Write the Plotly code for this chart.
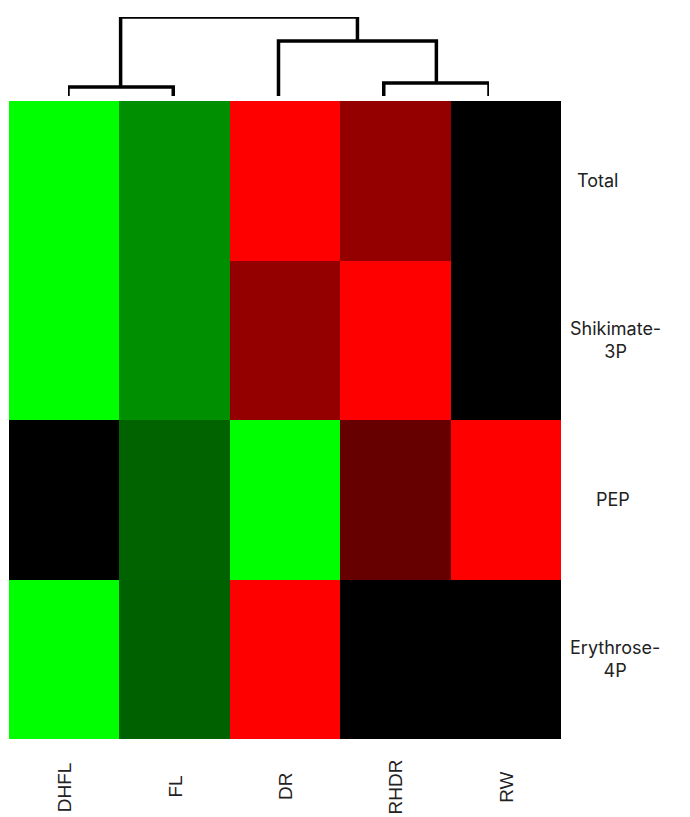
import plotly.graph_objects as go

# ---- data ----
columns = ["DHFL", "FL", "DR", "RHDR", "RW"]
rows = ["Total", "Shikimate-3P", "PEP", "Erythrose-4P"]
row_labels = ["Total", "Shikimate-<br>3P", "PEP", "Erythrose-<br>4P"]
z_total = [-1.0, -0.56, 1.0, 0.58, 0.0]
z_shikimate = [-1.0, -0.56, 0.58, 1.0, 0.0]
z_pep = [0.0, -0.39, -1.0, 0.40, 1.0]
z_erythrose = [-1.0, -0.38, 1.0, 0.0, 0.0]
z_values = [z_total, z_shikimate, z_pep, z_erythrose]

# dendrogram (column clustering): merges as (left cluster, right cluster, height)
dendro_merges = [
    ("DHFL", "FL", 9),
    ("RHDR", "RW", 13),
    ("DR", "RHDR+RW", 55),
    ("DHFL+FL", "DR+RHDR+RW", 79),
]

W, H = 690, 817
hm_left, hm_right, hm_top, hm_bottom = 9, 561, 101, 739
fig = go.Figure()

fig.add_trace(go.Heatmap(
    z=z_values, x=list(range(len(columns))), y=list(range(len(rows))),
    colorscale=[[0, "#00FF00"], [0.5, "#000000"], [1, "#FF0000"]],
    zmin=-1, zmax=1, showscale=False, hoverinfo="skip",
    xaxis="x", yaxis="y",
))

# dendrogram lines
pos = {c: (float(i), 0.0) for i, c in enumerate(columns)}
dx, dy = [], []
for a, b, h in dendro_merges:
    xa, ha = pos[a]
    xb, hb = pos[b]
    dx += [xa, xa, xb, xb, None]
    dy += [ha, h, h, hb, None]
    pos[a + "+" + b] = ((xa + xb) / 2, h)
fig.add_trace(go.Scatter(
    x=dx, y=dy, mode="lines",
    line=dict(color="black", width=3.5),
    xaxis="x2", yaxis="y2", hoverinfo="skip", showlegend=False,
))

top_h = dendro_merges[-1][2]

annotations = []
# row labels
row_x = [575, 615, 613, 615]
row_anchor = ["left", "center", "center", "center"]
for i, lab in enumerate(row_labels):
    annotations.append(dict(
        x=row_x[i] / W, xref="paper", y=i, yref="y",
        text=lab, showarrow=False, xanchor=row_anchor[i], yanchor="middle",
        align="center", font=dict(family="Inter", size=18, color="#222"),
    ))
# column labels
for i, c in enumerate(columns):
    annotations.append(dict(
        x=i, xref="x", y=1 - 787 / H, yref="paper",
        text=c, showarrow=False, textangle=-90,
        xanchor="center", yanchor="middle",
        font=dict(family="Liberation Sans", size=19, color="#222"),
    ))

fig.update_layout(
    width=W, height=H,
    margin=dict(l=0, r=0, t=0, b=0),
    paper_bgcolor="white", plot_bgcolor="white",
    showlegend=False,
    xaxis=dict(domain=[hm_left / W, hm_right / W], range=[-0.5, len(columns) - 0.5],
               showticklabels=False, showgrid=False, zeroline=False, ticks=""),
    yaxis=dict(domain=[1 - hm_bottom / H, 1 - hm_top / H], range=[len(rows) - 0.5, -0.5],
               showticklabels=False, showgrid=False, zeroline=False, ticks=""),
    xaxis2=dict(domain=[68 / W, 489 / W], range=[0, len(columns) - 1], anchor="y2",
                visible=False),
    yaxis2=dict(domain=[1 - 96 / H, 1 - 17 / H], range=[0, top_h], anchor="x2",
                visible=False),
    annotations=annotations,
)

fig.write_html("out.html")
